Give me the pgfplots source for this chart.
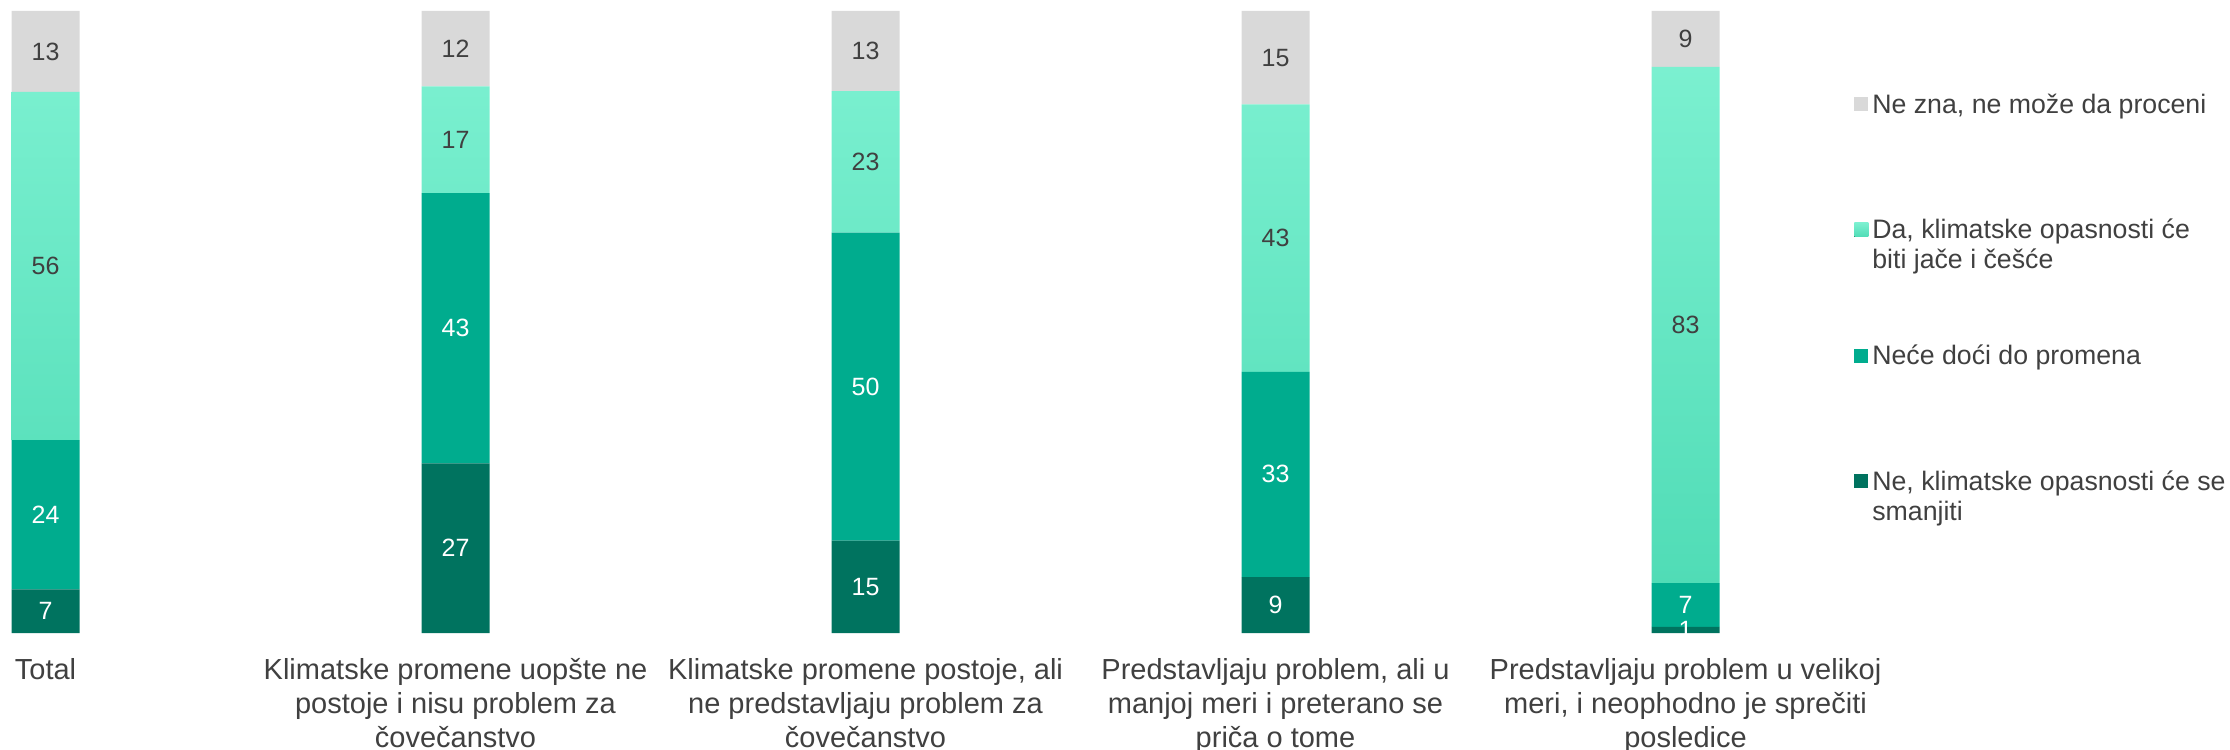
\documentclass[border=0pt]{standalone}
\usepackage{pgfplots}
\usepackage{pgfplotstable}
\pgfplotsset{compat=1.18}
\usepackage{fontspec}
\setmainfont{Liberation Sans}
\definecolor{cGray}{HTML}{D9D9D9}
\definecolor{cLightTop}{HTML}{7BF0D0}
\definecolor{cLightMid}{HTML}{66EDC8}
\definecolor{cLightBot}{HTML}{50DCB6}
\definecolor{cMed}{HTML}{00AC8E}
\definecolor{cDark}{HTML}{00735F}
\definecolor{cText}{HTML}{404040}

% heights as drawn (each bar fills 100%), labels as printed
\pgfplotstableread{
x dark med light gray ldark lmed llight lgray
0 7 24 56 13 7 24 56 13
1 27.27 43.43 17.17 12.13 27 43 17 12
2 14.85 49.50 22.77 12.88 15 50 23 13
3 9 33 43 15 9 33 43 15
4 1 7 83 9 1 7 83 9
}\datatable

\begin{document}
\begin{tikzpicture}
\begin{axis}[
  scale only axis,
  width=865.51pt, height=311pt,
  xmin=-0.111, xmax=4.111,
  ymin=0, ymax=100,
  ybar stacked,
  bar width=34pt,
  axis line style={draw=none},
  major tick length=0pt,
  ytick=\empty,
  xtick={0,1,2,3,4},
  xticklabels={
    Total,
    {Klimatske promene uopšte ne\\postoje i nisu problem za\\čovečanstvo},
    {Klimatske promene postoje, ali\\ne predstavljaju problem za\\čovečanstvo},
    {Predstavljaju problem, ali u\\manjoj meri i preterano se\\priča o tome},
    {Predstavljaju problem u velikoj\\meri, i neophodno je sprečiti\\posledice}
  },
  xticklabel style={align=center, font=\fontsize{14.5pt}{17pt}\selectfont, text=cText, inner sep=0pt, anchor=north, yshift=-12.35pt},
  /pgf/number format/assume math mode=true,
  point meta=explicit,
  nodes near coords={\pgfmathprintnumber[fixed,precision=0]{\pgfplotspointmeta}},
  every node near coord/.append style={anchor=center, inner sep=0pt, text=cText,
     font=\fontsize{12.5pt}{14pt}\selectfont},
  legend image code/.code={\fill[#1] (0pt,1pt) rectangle (7pt,8pt);},
  reverse legend,
  legend style={at={(1.0710,0.8699)}, anchor=north west, draw=none, fill=none,
     inner sep=0pt, column sep=2pt, row sep=50.8pt,
     cells={anchor=base west},
     nodes={inner sep=0pt, text=cText, anchor=base west, font=\fontsize{13.35pt}{15pt}\selectfont}},
]
\addplot[fill=cDark, draw=none, every node near coord/.append style={text=white}]
  table[x=x, y=dark, meta=ldark]{\datatable};
\addlegendentry{\parbox[t][30pt][t]{180pt}{\raggedright\strut Ne, klimatske opasnosti će se\\smanjiti}}
\addplot[fill=cMed, draw=none, every node near coord/.append style={text=white}]
  table[x=x, y=med, meta=lmed]{\datatable};
\addlegendentry{\parbox[t][30pt][t]{180pt}{\raggedright\strut Neće doći do promena}}
\addplot[draw=none, top color=cLightTop, middle color=cLightMid, bottom color=cLightBot]
  table[x=x, y=light, meta=llight]{\datatable};
\addlegendentry{\parbox[t][30pt][t]{180pt}{\raggedright\strut Da, klimatske opasnosti će\\biti jače i češće}}
\addplot[fill=cGray, draw=none]
  table[x=x, y=gray, meta=lgray]{\datatable};
\addlegendentry{\parbox[t][30pt][t]{180pt}{\raggedright\strut Ne zna, ne može da proceni}}
\end{axis}
\pgfresetboundingbox
\useasboundingbox (0pt,-58pt) rectangle (1115pt,316.5pt);
\end{tikzpicture}
\end{document}
